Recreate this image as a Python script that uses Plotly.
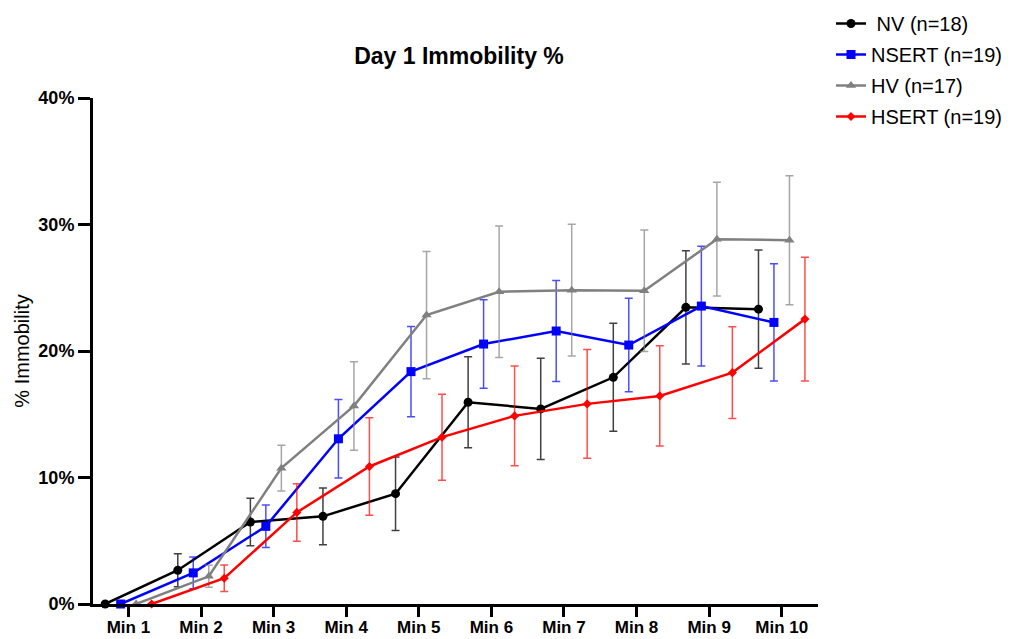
import plotly.graph_objects as go

minutes = ["Min 1", "Min 2", "Min 3", "Min 4", "Min 5", "Min 6", "Min 7", "Min 8", "Min 9", "Min 10"]

nv_mean = [0, 2.67, 6.48, 6.93, 8.72, 15.95, 15.42, 17.92, 23.45, 23.31]
nv_err = [0, 1.3, 1.88, 2.24, 2.9, 3.6, 4.0, 4.27, 4.47, 4.67]

nsert_mean = [0, 2.46, 6.14, 13.06, 18.37, 20.55, 21.58, 20.47, 23.55, 22.26]
nsert_err = [0, 1.25, 1.68, 3.1, 3.57, 3.5, 4.0, 3.7, 4.74, 4.64]

hv_mean = [0, 2.19, 10.74, 15.66, 22.84, 24.68, 24.81, 24.76, 28.84, 28.76]
hv_err = [0, 0.87, 1.8, 3.5, 5.03, 5.2, 5.2, 4.8, 4.5, 5.1]

hsert_mean = [0, 2.04, 7.24, 10.87, 13.19, 14.87, 15.82, 16.45, 18.29, 22.52]
hsert_err = [0, 1.05, 2.27, 3.85, 3.4, 3.95, 4.3, 3.96, 3.63, 4.9]

series = [
    (" NV (n=18)", nv_mean, nv_err, "#000000", "rgba(0,0,0,0.75)", "circle", 9, -0.32),
    ("NSERT (n=19)", nsert_mean, nsert_err, "#0000FF", "rgba(0,0,255,0.7)", "square", 9, -0.107),
    ("HV (n=17)", hv_mean, hv_err, "#808080", "rgba(128,128,128,0.7)", "triangle-up", 9, 0.107),
    ("HSERT (n=19)", hsert_mean, hsert_err, "#FF0000", "rgba(255,0,0,0.7)", "diamond", 7, 0.32),
]

FONT = "Liberation Sans, Arial, sans-serif"

fig = go.Figure()
for i, (name, mean, err, col, ecol, sym, msize, off) in enumerate(series):
    xs = [k + 1 + off for k in range(len(minutes))]
    fig.add_trace(go.Scatter(
        x=xs, y=mean, name=name, mode="lines+markers",
        line=dict(color=col, width=2.5),
        marker=dict(color=col, symbol=sym, size=msize),
        error_y=dict(type="data", array=err, visible=True, color=ecol, thickness=1.5, width=4),
        cliponaxis=False,
        legendgroup="g%d" % i,
    ))

fig.update_layout(
    width=1024, height=639,
    margin=dict(l=93, r=206, t=97.5, b=34.5),
    paper_bgcolor="white", plot_bgcolor="white",
    font=dict(family=FONT, color="black"),
    title=dict(text="<b>Day 1 Immobility %</b>", x=459/1024, xref="container", xanchor="center",
               y=1 - 56/639, yref="container", yanchor="middle",
               font=dict(size=23, family=FONT, color="black")),
    legend=dict(x=831/1024, xref="container", xanchor="left", y=1 - 4/639, yref="container", yanchor="top",
                font=dict(size=20, family=FONT, color="black"), tracegroupgap=2,
                bgcolor="rgba(0,0,0,0)"),
    showlegend=True,
)

fig.update_xaxes(
    range=[0.512, 10.5], tickmode="array", tickvals=list(range(1, len(minutes) + 1)),
    ticktext=["<b>%s</b>" % m for m in minutes], automargin=False,
    showline=True, linecolor="black", linewidth=3, ticks="outside", ticklen=10, tickwidth=3,
    tickcolor="black", showgrid=False, zeroline=False, ticklabelstandoff=-4,
    tickfont=dict(size=17, family=FONT, color="black"),
)
fig.update_yaxes(
    range=[0, 40], tickmode="array", tickvals=[0, 10, 20, 30, 40],
    ticktext=["<b>0%</b>", "<b>10%</b>", "<b>20%</b>", "<b>30%</b>", "<b>40%</b>"], automargin=False,
    showline=True, linecolor="black", linewidth=3, ticks="outside", ticklen=12, tickwidth=3,
    tickcolor="black", showgrid=False, zeroline=False,
    tickfont=dict(size=18, family=FONT, color="black"),
    title=dict(text="% Immobility", font=dict(size=20, family=FONT, color="black"), standoff=4),
)

fig.write_html("out.html")
